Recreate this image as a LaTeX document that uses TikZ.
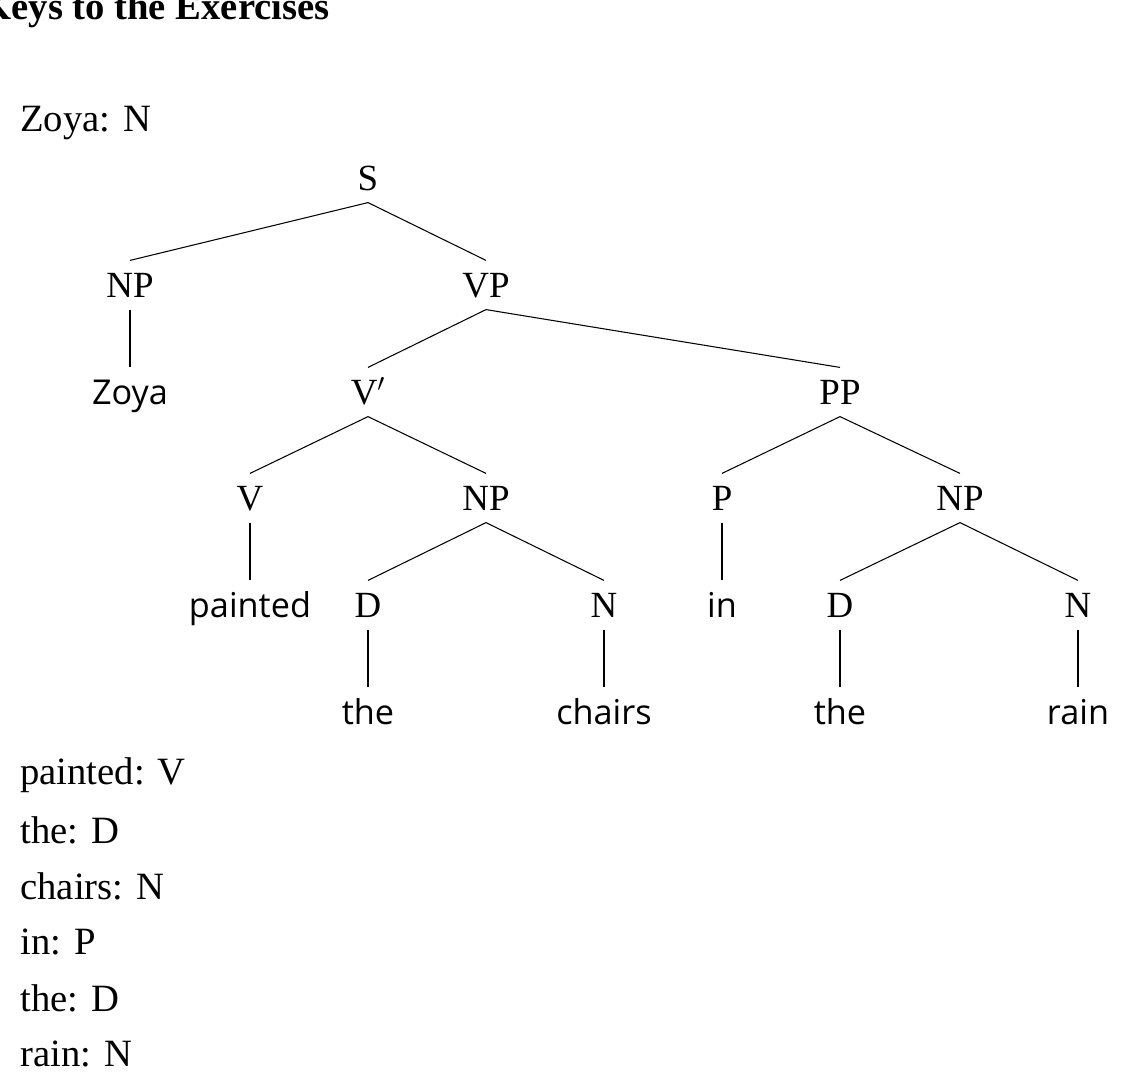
\documentclass[tikz,border=0pt]{standalone}
\usepackage{fontspec}
\setmainfont{Liberation Serif}
\setsansfont{Open Sans}
\begin{document}
\begin{tikzpicture}[x=0.02cm,y=-0.02cm,
    cat/.style={font=\fontsize{21}{25}\selectfont,inner sep=0pt,text height=14pt,text depth=0pt,minimum height=14pt,outer sep=7pt},
    word/.style={font=\sffamily\fontsize{19.5}{23}\selectfont,inner sep=0pt,text height=14pt,text depth=0pt,outer sep=7pt},
    txt/.style={font=\fontsize{22}{26}\selectfont,anchor=west,inner sep=0pt}]
    \useasboundingbox (0,0) rectangle (1135,1075);
    %header
    \node[font=\bfseries\fontsize{22}{26}\selectfont,anchor=east,inner sep=0pt] (head) at (330,10) {Keys to the Exercises};
    \node[txt] (zoyaN) at (20,123) {Zoya: N};
    %tree
    \node[cat] (s) at (368,178) {S};
    \node[cat] (np) at (130,285) {NP};
    \node[cat] (vp) at (486,285) {VP};
    \node[word] (zoya) at (130,392) {Zoya};
    \node[cat] (vbar) at (368,392) {V$'$};
    \node[cat] (pp) at (840,392) {PP};
    \node[cat] (v) at (250,498) {V};
    \node[cat] (npa) at (486,498) {NP};
    \node[cat] (p) at (722,498) {P};
    \node[cat] (npb) at (960,498) {NP};
    \node[word] (painted) at (250,605) {painted};
    \node[cat] (da) at (368,605) {D};
    \node[cat] (na) at (604,605) {N};
    \node[word] (in) at (722,605) {in};
    \node[cat] (db) at (840,605) {D};
    \node[cat] (nb) at (1078,605) {N};
    \node[word] (thea) at (368,712) {the};
    \node[word] (chairs) at (604,712) {chairs};
    \node[word] (theb) at (840,712) {the};
    \node[word] (rain) at (1078,712) {rain};
    \foreach \a/\b in {s/np,s/vp,np/zoya,vp/vbar,vp/pp,vbar/v,vbar/npa,pp/p,pp/npb,
        v/painted,npa/da,npa/na,p/in,npb/db,npb/nb,da/thea,na/chairs,db/theb,nb/rain}
        \draw[line width=0.6pt] (\a.south) -- (\b.north);
    %list
    \node[txt] (l1) at (20,775) {painted: V};
    \node[txt] (l2) at (20,830) {the: D};
    \node[txt] (l3) at (20,886) {chairs: N};
    \node[txt] (l4) at (20,942) {in: P};
    \node[txt] (l5) at (20,998) {the: D};
    \node[txt] (l6) at (20,1054) {rain: N};
\end{tikzpicture}
\end{document}
